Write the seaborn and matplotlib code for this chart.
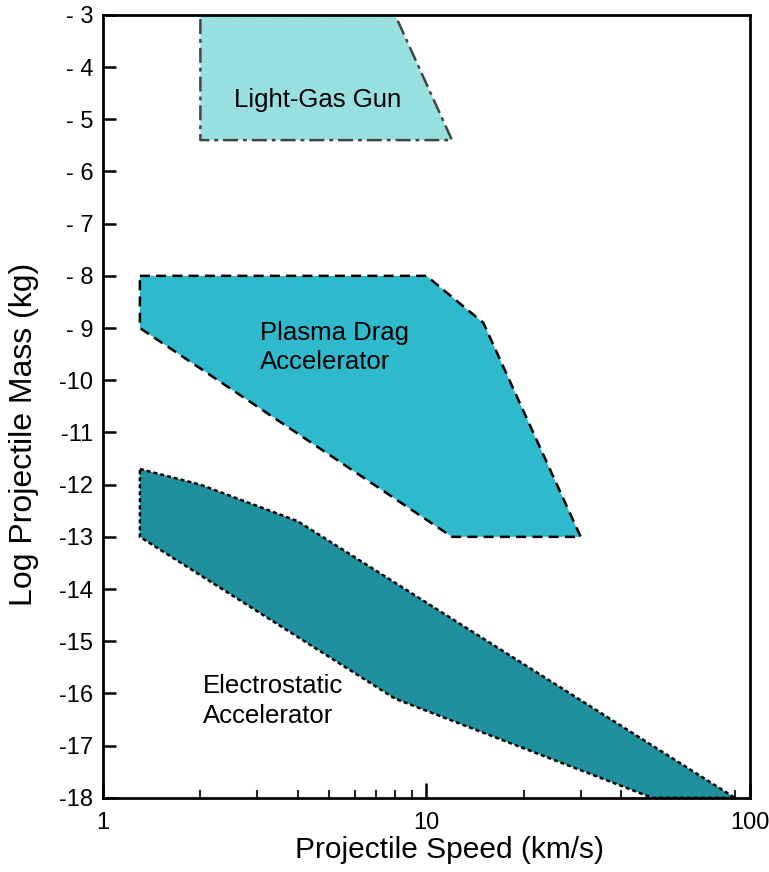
import numpy as np
import pandas as pd
import matplotlib
matplotlib.use("Agg")
import matplotlib.pyplot as plt
import seaborn as sns

# Polygon vertices (speed km/s, log mass kg)
gas_speed = [2, 8, 12, 2]
gas_mass = [-3, -3, -5.4, -5.4]

plasma_speed = [1.3, 10, 15, 30, 12, 1.3]
plasma_mass = [-8, -8, -8.9, -13, -13, -9]

electro_speed = [1.3, 2, 4, 90, 50, 8, 1.3]
electro_mass = [-11.7, -12, -12.7, -18, -18, -16.1, -13]

ytick_vals = list(range(-3, -19, -1))
ytick_labels = ["- 3", "- 4", "- 5", "- 6", "- 7", "- 8", "- 9",
                "-10", "-11", "-12", "-13", "-14", "-15", "-16", "-17", "-18"]
xtick_vals = [1, 10, 100]
xtick_labels = ["1", "10", "100"]

sns.set_style("ticks")
plt.rcParams["font.family"] = ["Liberation Sans", "DejaVu Sans"]
plt.rcParams["text.color"] = "black"
plt.rcParams["axes.labelcolor"] = "black"

fig = plt.figure(figsize=(7.69, 8.72), dpi=100)
ax = fig.add_axes([0.134, 0.085, 0.841, 0.898])

regions = [
    (gas_speed, gas_mass, "#98E0E0", "#444444", (0, (6, 2, 1.5, 2)), 1.8),
    (plasma_speed, plasma_mass, "#2EB9CD", "black", (0, (4, 2.5)), 1.8),
    (electro_speed, electro_mass, "#21909E", "black", (0, (1.6, 1.2)), 1.8),
]
for xs, ys, fc, ec, ls, lw in regions:
    ax.fill(xs, ys, facecolor=fc, edgecolor="none", zorder=1)
    df = pd.DataFrame({"x": list(xs) + [xs[0]], "y": list(ys) + [ys[0]]})
    sns.lineplot(data=df, x="x", y="y", sort=False, estimator=None,
                 color=ec, linestyle=ls, linewidth=lw, ax=ax, zorder=2)

ax.set_xscale("log")
ax.set_xlim(1, 100)
ax.set_ylim(-18, -3)
ax.set_xticks(xtick_vals)
ax.set_xticklabels(xtick_labels)
ax.set_yticks(ytick_vals)
ax.set_yticklabels(ytick_labels)
ax.tick_params(axis="both", direction="in", labelsize=17, width=1.8,
               color="black", labelcolor="black")
ax.tick_params(axis="y", length=9, pad=7)
ax.tick_params(axis="x", which="major", length=11, pad=10)
ax.tick_params(axis="x", which="minor", direction="in", length=6, width=1.5)
for s in ax.spines.values():
    s.set_linewidth(2)
    s.set_color("black")

ax.set_xlabel("Projectile Speed (km/s)", fontsize=21.5, color="black")
ax.set_ylabel("Log Projectile Mass (kg)", fontsize=23, color="black")
ax.xaxis.label.set_va("center")
ax.yaxis.label.set_va("center")
ax.xaxis.set_label_coords(0.535, -0.067)
ax.yaxis.set_label_coords(-0.122, 0.464)

ax.text(4.6, -4.63, "Light-Gas Gun", fontsize=18.5, ha="center", va="center")
ax.text(3.06, -9.37, "Plasma Drag\nAccelerator", fontsize=18.5, ha="left",
        va="center", linespacing=1.3)
ax.text(2.04, -16.15, "Electrostatic\nAccelerator", fontsize=18.5, ha="left",
        va="center", linespacing=1.3)

fig.savefig("out.png", dpi=100)
